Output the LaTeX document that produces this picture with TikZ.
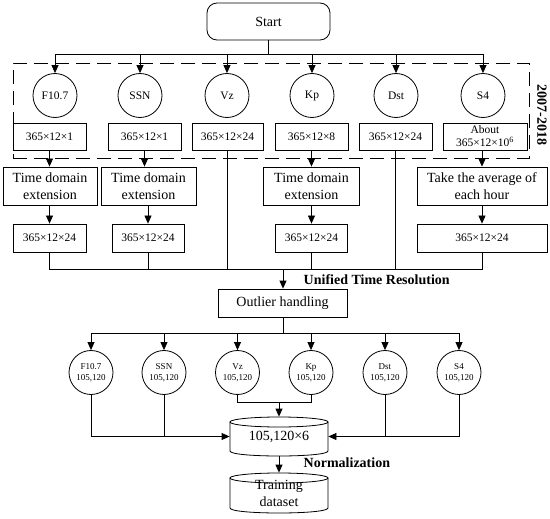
\documentclass[tikz,border=0pt]{standalone}
\usepackage{fontspec}
\setmainfont{Liberation Serif}
\usetikzlibrary{arrows.meta}
\begin{document}
\begin{tikzpicture}[x=1pt,y=-1pt,
  line width=0.8pt,
  arr/.style={-{Triangle[length=8pt,width=7pt]}},
  box/.style={draw, rectangle, inner sep=0pt, align=center},
  small/.style={font=\fontsize{11.5}{13}\selectfont},
  big/.style={font=\fontsize{14}{17}\selectfont},
  tiny/.style={font=\fontsize{9}{11}\selectfont},
  circ/.style={draw, circle, minimum size=44pt, inner sep=0pt, align=center},
  databox/.style={box, small, minimum width=73pt, minimum height=27pt},
  timebox/.style={box, big, minimum height=38pt},
  resbox/.style={box, small, minimum height=28pt},
  bold/.style={font=\fontsize{14}{16}\selectfont\bfseries},
  frame/.style={draw, dash pattern=on 14pt off 7pt, minimum width=516pt, minimum height=95pt, inner sep=0pt},
]
\useasboundingbox (0,0) rectangle (550,519);

% start
\node[box, big, rounded corners=10pt, minimum width=123pt, minimum height=37pt] (start) at (268.5,21.5) {Start};

% frame
\node[frame] (fr) at (271,110.5) {};
\node[bold, rotate=-90] (yr) at (542,115) {2007-2018};

% first circles
\node[circ, small] (a1) at (55,95.5) {F10.7};
\node[circ, small] (a2) at (140,95.5) {SSN};
\node[circ, small] (a3) at (227,95.5) {Vz};
\node[circ, small] (a4) at (312,95.5) {Kp};
\node[circ, small] (a5) at (396,95.5) {Dst};
\node[circ, small] (a6) at (483,95.5) {S4};

\coordinate (topbus) at (268.5,54);
\draw (start.south) -- (topbus);
\draw (a1.north |- topbus) -- (a6.north |- topbus);
\foreach \n in {a1,a2,a3,a4,a5,a6} \draw[arr] (\n.north |- topbus) -- (\n.north);

% data boxes
\node[databox] (d1) at (49.5,136.5) {365×12×1};
\node[databox] (d2) at (144.5,136.5) {365×12×1};
\node[databox, minimum width=71pt] (d3) at (227.5,136.5) {365×12×24};
\node[databox] (d4) at (311.5,136.5) {365×12×8};
\node[databox] (d5) at (395.5,136.5) {365×12×24};
\node[databox, minimum width=84pt] (d6) at (485,136.5) {About\\365×12×10\textsuperscript{6}};

% time boxes
\node[timebox, minimum width=94pt] (t1) at (50,186) {Time domain\\extension};
\node[timebox, minimum width=95pt] (t2) at (148.5,186) {Time domain\\extension};
\node[timebox, minimum width=96pt] (t3) at (311.5,186) {Time domain\\extension};
\node[timebox, minimum width=130pt] (t4) at (482,186) {Take the average of\\each hour};

\draw[arr] (d1.south) -- (d1.south |- t1.north);
\draw[arr] (d2.south) -- (d2.south |- t2.north);
\draw[arr] (d4.south) -- (d4.south |- t3.north);
\draw[arr] (t4.north |- d6.south) -- (t4.north);

% result boxes
\node[resbox, minimum width=73pt] (r1) at (49.5,238) {365×12×24};
\node[resbox, minimum width=72pt] (r2) at (148,238) {365×12×24};
\node[resbox, minimum width=72pt] (r3) at (311.5,238) {365×12×24};
\node[resbox, minimum width=130pt] (r4) at (482,238) {365×12×24};

\draw[arr] (r1.north |- t1.south) -- (r1.north);
\draw[arr] (r2.north |- t2.south) -- (r2.north);
\draw[arr] (t3.south) -- (r3.north);
\draw[arr] (t4.south) -- (r4.north);

% bus to outlier
\coordinate (bus1) at (283,269);
\draw (r1.south) -- (r1.south |- bus1) -- (r4.south |- bus1) -- (r4.south);
\draw (r2.south) -- (r2.south |- bus1);
\draw (r3.south) -- (r3.south |- bus1);
\draw (d3.south) -- (d3.south |- bus1);
\draw (d5.south) -- (d5.south |- bus1);

\node[bold, anchor=west] (utr) at (300,280) {Unified Time Resolution};

\node[box, big, minimum width=129pt, minimum height=28pt] (out) at (282.5,303) {Outlier handling};
\draw[arr] (bus1) -- (bus1 |- out.north);

% second circles
\node[circ, tiny] (b1) at (91,372.5) {F10.7\\105,120};
\node[circ, tiny] (b2) at (164,372.5) {SSN\\105,120};
\node[circ, tiny] (b3) at (237.5,372.5) {Vz\\105,120};
\node[circ, tiny] (b4) at (311,372.5) {Kp\\105,120};
\node[circ, tiny] (b5) at (385,372.5) {Dst\\105,120};
\node[circ, tiny] (b6) at (459,372.5) {S4\\105,120};

\coordinate (bus2) at (283,333);
\draw (out.south -| bus2) -- (bus2);
\draw (b1.north |- bus2) -- (b6.north |- bus2);
\foreach \n in {b1,b2,b3,b4,b5,b6} \draw[arr] (\n.north |- bus2) -- (\n.north);

% cylinder 1
\node[minimum width=98pt, minimum height=39pt, inner sep=0pt, big] (cyl) at (279,436.5) {105,120×6};
\draw (230,422) -- (230,451) .. controls (230,457.67) and (328,457.67) .. (328,451) -- (328,422);
\draw (279,422) ellipse [x radius=49pt, y radius=5pt];

\coordinate (join) at (279,402);
\draw (b3.south) -- (b3.south |- join) -- (b4.south |- join) -- (b4.south);
\draw[arr] (join) -- (cyl.north);

\draw[arr] (b1.south) |- (cyl.west);
\draw (b2.south) -- (b2.south |- cyl.west);
\draw[arr] (b6.south) |- (cyl.east);
\draw (b5.south) -- (b5.south |- cyl.east);

% cylinder 2
\node[minimum width=98pt, minimum height=40pt, inner sep=0pt, big, align=center] (train) at (279,493) {Training\\dataset};
\draw (230,478) -- (230,508) .. controls (230,514.67) and (328,514.67) .. (328,508) -- (328,478);
\draw (279,478) ellipse [x radius=49pt, y radius=5pt];

\draw[arr] (cyl.south) -- (train.north);
\node[bold, anchor=west] (norm) at (300,463) {Normalization};
\end{tikzpicture}
\end{document}
